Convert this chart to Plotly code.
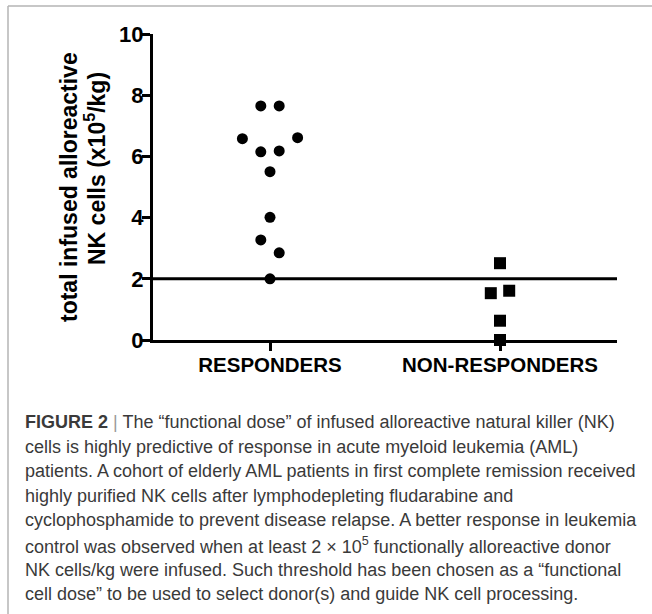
import plotly.graph_objects as go

# ---------------- data ----------------
categories = ["RESPONDERS", "NON-RESPONDERS"]
responders = [7.65, 7.65, 6.58, 6.15, 6.18, 6.61, 5.50, 4.01, 3.27, 2.85, 2.00]
non_responders = [2.51, 1.53, 1.61, 0.63, 0.00]
threshold = 2.0
y_ticks = [0, 2, 4, 6, 8, 10]
y_title_lines = ["total infused alloreactive", "NK cells (x10<sup>5</sup>/kg)"]
caption_lines = [
    "<b>FIGURE 2</b> <span style='color:#9a9a9a'>|</span> The \u201cfunctional dose\u201d of infused alloreactive natural killer (NK)",
    "cells is highly predictive of response in acute myeloid leukemia (AML)",
    "patients. A cohort of elderly AML patients in first complete remission received",
    "highly purified NK cells after lymphodepleting fludarabine and",
    "cyclophosphamide to prevent disease relapse. A better response in leukemia",
    "control was observed when at least 2 \u00d7 10<sup>5</sup> functionally alloreactive donor",
    "NK cells/kg were infused. Such threshold has been chosen as a \u201cfunctional",
    "cell dose\u201d to be used to select donor(s) and guide NK cell processing.",
]

# ---------------- layout geometry (pixels) ----------------
W, H = 652, 614
L, R, T, B = 153, 617, 34, 340          # plot-area edges in pixels
XR = [-0.5087, 1.5087]
YR = [0, 10]
FONT = "Liberation Sans, Arial, sans-serif"


def px2x(px):
    return (px - L) / (R - L)


def px2y(py):
    return (B - py) / (B - T)


def swarm_slots(values, gap=0.5):
    """Group close values (column-scatter style) and spread each group sideways."""
    order = sorted(range(len(values)), key=lambda i: values[i])
    groups = []
    for i in order:
        if groups and values[i] - values[groups[-1][-1]] < gap:
            groups[-1].append(i)
        else:
            groups.append([i])
    slots = [0.0] * len(values)
    for g in groups:
        g = sorted(g)
        n = len(g)
        for k, i in enumerate(g):
            slots[i] = k - (n - 1) / 2
    return slots


units_per_px = (XR[1] - XR[0]) / (R - L)
SLOT = 18.4 * units_per_px

fig = go.Figure()
for ci, (vals, sym, size) in enumerate([(responders, "circle", 11),
                                         (non_responders, "square", 12)]):
    slots = swarm_slots(vals)
    fig.add_trace(go.Scatter(
        x=[ci + s * SLOT for s in slots], y=vals, mode="markers",
        marker=dict(symbol=sym, size=size, color="black", line=dict(width=0)),
        cliponaxis=False, showlegend=False, hoverinfo="y",
    ))

fig.add_shape(type="line", xref="paper", yref="y", x0=0, x1=1,
              y0=threshold, y1=threshold, line=dict(color="black", width=3))

# frame (light grey border of the figure panel)
fig.add_shape(type="line", xref="paper", yref="paper",
              x0=px2x(8), x1=px2x(8), y0=px2y(6), y1=px2y(H + 5),
              line=dict(color="#b4b4b4", width=1.5))
fig.add_shape(type="line", xref="paper", yref="paper",
              x0=px2x(8), x1=px2x(W + 5), y0=px2y(6), y1=px2y(6),
              line=dict(color="#b4b4b4", width=1.5))

# y-axis title, two lines
for txt, cx, cy in [(y_title_lines[0], 69, 187), (y_title_lines[1], 95, 169)]:
    fig.add_annotation(text=txt, xref="paper", yref="paper",
                       x=px2x(cx), y=px2y(cy), xanchor="center", yanchor="middle",
                       textangle=-90, showarrow=False,
                       font=dict(family=FONT, size=23, color="black", weight="bold"))

# caption
for k, line in enumerate(caption_lines):
    base = 428.3 + 24.6 * k
    fig.add_annotation(text=line, xref="paper", yref="paper",
                       x=px2x(22.5), y=px2y(base - 6.3), xanchor="left", yanchor="middle",
                       align="left", showarrow=False,
                       font=dict(family=FONT, size=18, color="#3a3a3a"))

fig.update_layout(
    width=W, height=H,
    margin=dict(l=L, r=W - R, t=T, b=H - B, pad=0),
    plot_bgcolor="white", paper_bgcolor="white",
    showlegend=False,
    xaxis=dict(range=XR, tickmode="array", tickvals=[0, 1], ticktext=categories,
               showgrid=False, zeroline=False, showline=True, linecolor="black",
               linewidth=3, ticks="outside", ticklen=8, tickwidth=3, tickcolor="black",
               ticklabelstandoff=-4,
               tickfont=dict(family=FONT, size=20.5, color="black", weight="bold")),
    yaxis=dict(range=YR, tickmode="array", tickvals=y_ticks,
               showgrid=False, zeroline=False, showline=True, linecolor="black",
               linewidth=3, ticks="outside", ticklen=8, tickwidth=3, tickcolor="black",
               ticklabelstandoff=-6,
               tickfont=dict(family=FONT, size=22, color="black", weight="bold")),
)

fig.write_html("out.html", config={"displayModeBar": False},
               post_script="document.body.style.margin='0px';document.body.style.overflow='hidden';")
